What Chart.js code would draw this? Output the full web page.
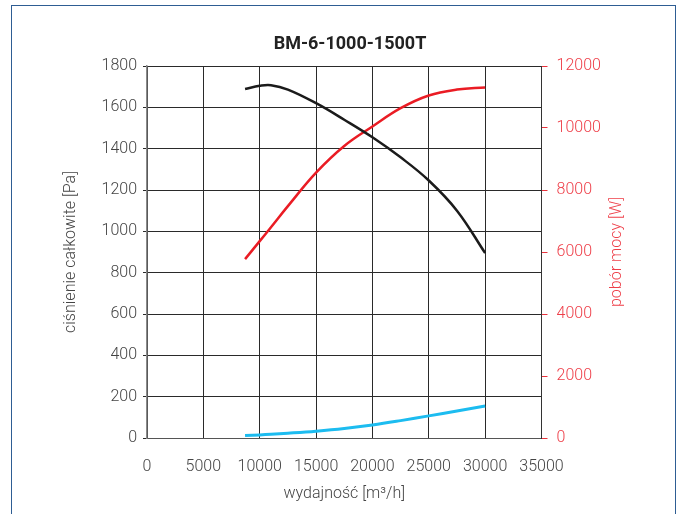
<!DOCTYPE html>
<html>
<head>
<meta charset="utf-8">
<script src="https://cdn.jsdelivr.net/npm/chart.js@4"></script>
<style>
  body { margin: 0; background: #fff; }
  #wrap { position: relative; width: 683px; height: 514px; overflow: hidden; }
  #frame { position: absolute; left: 11px; top: 5px; width: 665px; height: 600px; border: 1.5px solid #2e5d93; box-sizing: border-box; pointer-events: none; }
</style>
</head>
<body>
<div id="wrap">
  <canvas id="fanChart" width="683" height="514"></canvas>
  <div id="frame"></div>
</div>
<script>
// wydajność [m3/h]
var flow = [8700, 10000, 11000, 12500, 15000, 17500, 20000, 22500, 25000, 27500, 30000];
// ciśnienie całkowite [Pa] (lewa oś)
var totalPressure = [1689, 1704, 1707, 1686, 1620, 1540, 1455, 1358, 1246, 1100, 895];
// ciśnienie dynamiczne [Pa] (lewa oś)
var dynPressure = [12, 15, 18, 23, 33, 46, 63, 84, 107, 131, 155];
// pobór mocy [W] (prawa oś)
var power = [5770, 6350, 6800, 7480, 8560, 9420, 10050, 10640, 11050, 11240, 11310];

var xTicks = [0, 35000, 5000];      // min, max, step
var yTicks = [0, 1800, 200];
var y1Ticks = [0, 12000, 2000];

var chartTitle = 'BM-6-1000-1500T';
var powerTitle = 'pobór mocy [W]';

function pts(ys) {
    return flow.map(function (x, i) { return { x: x, y: ys[i] }; });
}
function plain(v) { return String(v); }

var tickFont = { family: 'Roboto', size: 16, weight: '300' };
var grey = '#444';
var red = '#ee3e48';

// tytuł wykresu i tytuł prawej osi (czytany od dołu do góry)
var extraText = {
    id: 'extraText',
    afterDraw: function (chart) {
        var c = chart.ctx;
        c.save();
        c.fillStyle = '#222';
        c.font = 'bold 18px Roboto';
        c.textAlign = 'center';
        c.textBaseline = 'middle';
        c.fillText(chartTitle, 350, 44);
        c.fillStyle = red;
        c.font = '300 16px Roboto';
        c.translate(617, (chart.chartArea.top + chart.chartArea.bottom) / 2);
        c.rotate(-Math.PI / 2);
        c.fillText(powerTitle, 0, 0);
        c.restore();
    }
};

var ctx = document.getElementById('fanChart').getContext('2d');
var fanChart = new Chart(ctx, {
    type: 'line',
    data: {
        datasets: [{
            label: 'ciśnienie całkowite',
            data: pts(totalPressure),
            borderColor: '#1b1b1b',
            borderWidth: 2.5,
            yAxisID: 'y'
        }, {
            label: 'pobór mocy',
            data: pts(power),
            borderColor: '#ea1c24',
            borderWidth: 2.5,
            yAxisID: 'y1'
        }, {
            label: 'ciśnienie dynamiczne',
            data: pts(dynPressure),
            borderColor: '#1cbcf0',
            borderWidth: 3,
            yAxisID: 'y'
        }]
    },
    plugins: [extraText],
    options: {
        responsive: false,
        animation: false,
        layout: { padding: { top: 66 } },
        elements: {
            point: { radius: 0 },
            line: { tension: 0.4, fill: false }
        },
        plugins: {
            legend: { display: false },
            tooltip: { enabled: false },
            title: { display: false }
        },
        scales: {
            x: {
                type: 'linear',
                min: xTicks[0],
                max: xTicks[1],
                ticks: { stepSize: xTicks[2], callback: plain, color: grey, font: tickFont, padding: 19, maxRotation: 0, autoSkip: false },
                grid: { color: '#2a2a2a', drawTicks: false },
                border: { color: '#555' },
                title: { display: true, text: 'wydajność [m³/h]', color: grey, font: tickFont, padding: { top: 0, bottom: 10.4 } },
                afterFit: function (s) { s.height = 76; }
            },
            y: {
                position: 'left',
                min: yTicks[0],
                max: yTicks[1],
                ticks: { stepSize: yTicks[2], callback: plain, color: grey, font: tickFont, padding: 6 },
                grid: { color: '#2a2a2a', tickLength: 4 },
                border: { color: '#8a8a8a', width: 1.5 },
                title: { display: true, text: 'ciśnienie całkowite [Pa]', color: grey, font: tickFont, padding: { top: 61, bottom: 0 } },
                afterFit: function (s) { s.width = 147; }
            },
            y1: {
                position: 'right',
                min: y1Ticks[0],
                max: y1Ticks[1],
                ticks: { stepSize: y1Ticks[2], callback: plain, color: red, font: tickFont, padding: 9 },
                grid: { drawOnChartArea: false, color: '#e8323c', tickLength: 6 },
                border: { color: '#333' },
                title: { display: false },
                afterFit: function (s) { s.width = 141.5; }
            }
        }
    }
});
</script>
</body>
</html>
